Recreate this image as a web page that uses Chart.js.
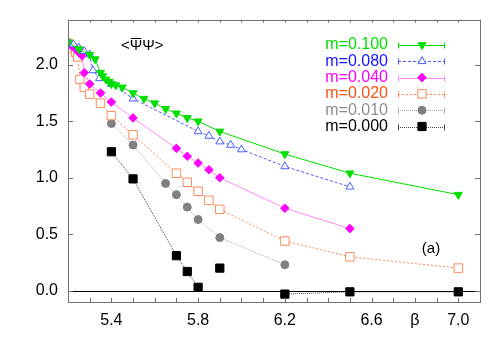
<!DOCTYPE html>
<html>
<head>
<meta charset="utf-8">
<script src="https://cdn.jsdelivr.net/npm/chart.js@4.4.1/dist/chart.umd.min.js"></script>
<style>
  html, body { margin: 0; padding: 0; background: #fff; }
  #wrap { width: 491px; height: 343px; position: relative; }
</style>
</head>
<body>
<div id="wrap"><canvas id="psiChart"></canvas></div>
<script>
// Data: beta values and <psibar psi> per mass
const beta100 = [5.2, 5.25, 5.3, 5.325, 5.35, 5.36, 5.375, 5.39, 5.4, 5.42, 5.45, 5.5, 5.55, 5.6, 5.65, 5.7, 5.75, 5.8, 5.9, 6.2, 6.5, 7.0];
const psi100  = [2.20, 2.14, 2.09, 2.05, 1.93, 1.90, 1.87, 1.85, 1.83, 1.82, 1.80, 1.75, 1.70, 1.66, 1.61, 1.57, 1.53, 1.50, 1.41, 1.21, 1.04, 0.85];

const beta080 = [5.2, 5.225, 5.25, 5.275, 5.3, 5.315, 5.345, 5.4, 5.5, 5.8, 5.85, 5.9, 5.95, 6.0, 6.2, 6.5];
const psi080  = [2.21, 2.18, 2.15, 2.12, 2.09, 1.95, 1.88, 1.83, 1.70, 1.41, 1.37, 1.32, 1.29, 1.25, 1.10, 0.92];

const beta040 = [5.2, 5.22, 5.24, 5.255, 5.265, 5.275, 5.3, 5.35, 5.4, 5.5, 5.7, 5.75, 5.8, 5.85, 5.9, 6.2, 6.5];
const psi040  = [2.18, 2.16, 2.13, 2.10, 2.08, 1.93, 1.83, 1.75, 1.67, 1.53, 1.26, 1.19, 1.13, 1.07, 1.00, 0.73, 0.55];

const beta020 = [5.2, 5.22, 5.235, 5.245, 5.255, 5.275, 5.3, 5.35, 5.4, 5.5, 5.7, 5.75, 5.8, 5.85, 5.9, 6.2, 6.5, 7.0];
const psi020  = [2.19, 2.15, 2.11, 2.07, 1.87, 1.80, 1.74, 1.66, 1.55, 1.38, 1.04, 0.96, 0.88, 0.80, 0.72, 0.44, 0.30, 0.20];

const beta010 = [5.4, 5.5, 5.65, 5.7, 5.75, 5.8, 5.9, 6.2];
const psi010  = [1.48, 1.29, 0.95, 0.85, 0.74, 0.63, 0.47, 0.23];

// null entries break the line
const beta000 = [5.4, 5.5, 5.7, 5.75, 5.8, 5.85, 5.9, 6.0, 6.2, 6.5, 7.0];
const psi000  = [1.23, 0.99, 0.31, 0.17, 0.03, null, 0.20, null, -0.03, -0.01, -0.01];

const xLabels = { 54: '5.4', 58: '5.8', 62: '6.2', 66: '6.6', 68: '\u03b2', 70: '7.0' };
const yLabelTicks = [0, 0.5, 1.0, 1.5, 2.0];

const FONT = '"Liberation Sans", Arial, Helvetica, sans-serif';

const toPoints = (xs, ys) => xs.map((x, i) => ({ x: x, y: ys[i] }));

const seriesDefs = [
  { label: 'm=0.100', xs: beta100, ys: psi100, text: '#00e000', line: '#00e000', fill: '#00e000', edge: '#00e000', style: 'triangle', rot: 180, r: 4.6, dash: [] },
  { label: 'm=0.080', xs: beta080, ys: psi080, text: '#1414ff', line: '#4a5cff', fill: '#ffffff', edge: '#4a5cff', style: 'triangle', rot: 0, r: 4.6, dash: [3, 2] },
  { label: 'm=0.040', xs: beta040, ys: psi040, text: '#ff00ff', line: '#ff88ff', fill: '#ff00ff', edge: '#ff00ff', style: 'rectRot', rot: 0, r: 4.3, dash: [] },
  { label: 'm=0.020', xs: beta020, ys: psi020, text: '#ff5010', line: '#ff8a5a', fill: '#ffffff', edge: '#ff8a5a', style: 'rect', rot: 0, r: 6, dash: [2, 2] },
  { label: 'm=0.010', xs: beta010, ys: psi010, text: '#909090', line: '#a8a8a8', fill: '#808080', edge: '#808080', style: 'circle', rot: 0, r: 4, dash: [1, 1] },
  { label: 'm=0.000', xs: beta000, ys: psi000, text: '#000000', line: '#404040', fill: '#000000', edge: '#000000', style: 'rect', rot: 0, r: 5.8, dash: [1, 1] }
];

const datasets = seriesDefs.map(s => ({
  label: s.label,
  data: toPoints(s.xs, s.ys),
  borderColor: s.line,
  borderWidth: 1,
  borderDash: s.dash,
  backgroundColor: s.fill,
  pointStyle: s.style,
  pointRotation: s.rot,
  pointRadius: s.r,
  pointBorderColor: s.edge,
  pointBorderWidth: 1,
  pointBackgroundColor: s.fill,
  spanGaps: false,
  tension: 0
}));

// frame, inward ticks, zero line, legend and labels
const decorations = {
  id: 'decorations',
  afterDraw(chart) {
    const ctx = chart.ctx;
    const a = chart.chartArea;
    const xs = chart.scales.x;
    const ys = chart.scales.y;
    ctx.save();

    // zero line
    ctx.strokeStyle = '#000';
    ctx.lineWidth = 1;
    const y0 = Math.round(ys.getPixelForValue(0)) + 0.5;
    ctx.beginPath();
    ctx.moveTo(a.left, y0);
    ctx.lineTo(a.right, y0);
    ctx.stroke();

    // frame
    ctx.strokeStyle = '#707070';
    ctx.strokeRect(Math.round(a.left) + 0.5, Math.round(a.top) + 0.5, Math.round(a.right - a.left), Math.round(a.bottom - a.top));

    ctx.beginPath();
    for (let k = 52; k <= 71; k++) {
      const px = Math.round(xs.getPixelForValue(k / 10)) + 0.5;
      ctx.moveTo(px, a.bottom);
      ctx.lineTo(px, a.bottom - 4);
      ctx.moveTo(px, a.top);
      ctx.lineTo(px, a.top + 3);
    }
    yLabelTicks.forEach(v => {
      const py = Math.round(ys.getPixelForValue(v)) + 0.5;
      ctx.moveTo(a.left, py);
      ctx.lineTo(a.left + 5, py);
      ctx.moveTo(a.right, py);
      ctx.lineTo(a.right - 5, py);
    });
    ctx.stroke();

    // <psibar psi> label
    ctx.fillStyle = '#000';
    ctx.strokeStyle = '#000';
    ctx.font = '15px ' + FONT;
    ctx.textBaseline = 'middle';
    ctx.textAlign = 'left';
    const lx = 121, ly = 46;
    ctx.fillText('<\u03a8\u03a8>', lx, ly);
    const wLt = ctx.measureText('<').width;
    const wPsi = ctx.measureText('\u03a8').width;
    ctx.beginPath();
    ctx.moveTo(lx + wLt + 1, ly - 7.5);
    ctx.lineTo(lx + wLt + wPsi - 1, ly - 7.5);
    ctx.stroke();

    ctx.textAlign = 'center';
    ctx.fillText('(a)', 431, 249);

    // legend
    ctx.font = '16px ' + FONT;
    seriesDefs.forEach((s, i) => {
      const ry = 45 + i * 16.3;
      ctx.textAlign = 'right';
      ctx.fillStyle = s.text;
      ctx.fillText(s.label, 388, ry);
      const ly2 = Math.round(ry) + 0.5;
      ctx.strokeStyle = s.line;
      ctx.lineWidth = 1;
      ctx.setLineDash(s.dash);
      ctx.beginPath();
      ctx.moveTo(398, ly2);
      ctx.lineTo(445, ly2);
      ctx.stroke();
      ctx.setLineDash([]);
      ctx.beginPath();
      ctx.moveTo(398.5, ly2 - 3);
      ctx.lineTo(398.5, ly2 + 3);
      ctx.moveTo(444.5, ly2 - 3);
      ctx.lineTo(444.5, ly2 + 3);
      ctx.stroke();
      ctx.fillStyle = s.fill;
      ctx.strokeStyle = s.edge;
      Chart.helpers.drawPoint(ctx, { pointStyle: s.style, rotation: s.rot, radius: s.r, borderWidth: 1 }, 422, ry);
    });
    ctx.restore();
  }
};

new Chart(document.getElementById('psiChart'), {
  type: 'line',
  data: { datasets: datasets },
  options: {
    responsive: true,
    maintainAspectRatio: false,
    animation: false,
    layout: { padding: { top: 16, right: 11, left: 0, bottom: 0 } },
    plugins: {
      legend: { display: false },
      tooltip: { enabled: false }
    },
    scales: {
      x: {
        type: 'linear',
        min: 5.2,
        max: 7.1,
        grid: { display: false, drawTicks: false },
        border: { display: false },
        afterFit: (scale) => { scale.height = 41; },
        ticks: {
          stepSize: 0.1,
          autoSkip: false,
          maxRotation: 0,
          padding: 9,
          color: '#000',
          font: { family: FONT, size: 16 },
          callback: (v) => xLabels[Math.round(v * 10)] || ''
        }
      },
      y: {
        type: 'linear',
        min: -0.1,
        max: 2.4,
        grid: { display: false, drawTicks: false },
        border: { display: false },
        afterFit: (scale) => { scale.width = 68; },
        afterBuildTicks: (scale) => { scale.ticks = yLabelTicks.map(v => ({ value: v })); },
        ticks: {
          autoSkip: false,
          padding: 10,
          color: '#000',
          font: { family: FONT, size: 16 },
          callback: (v) => v.toFixed(1)
        }
      }
    }
  },
  plugins: [decorations]
});
</script>
</body>
</html>
